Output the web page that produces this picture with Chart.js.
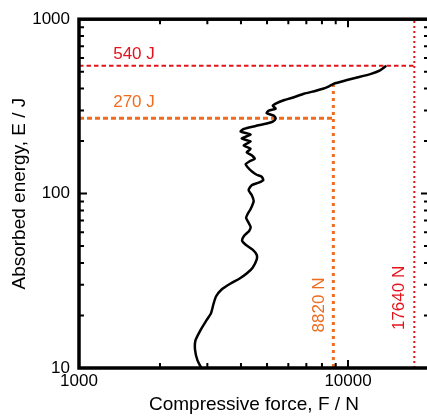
<!DOCTYPE html>
<html>
<head>
<meta charset="utf-8">
<script src="https://cdn.jsdelivr.net/npm/chart.js@4.4.1/dist/chart.umd.min.js"></script>
<style>
  html, body { margin: 0; padding: 0; background: #fff; overflow: hidden; }
  #wrap { width: 432px; height: 416px; }
</style>
</head>
<body>
<div id="wrap"><canvas id="energyChart" width="432" height="416"></canvas></div>
<script>
// compression curve: force vs absorbed energy
const forceN = [2850, 2755, 2700, 2710, 2830, 2980, 3095, 3160, 3230, 3390,
  3660, 3955, 4200, 4420, 4575, 4575, 4420, 4165, 4040, 4110,
  4290, 4345, 4255, 4180, 4235, 4345, 4460, 4385, 4270, 4385,
  4655, 4840, 4775, 4575, 4385, 4235, 4165, 4310, 4500, 4385,
  4200, 4345, 4095, 4345, 4025, 4345, 3990, 4095, 4535, 4985,
  5250, 5385, 5295, 4985, 5075, 5385, 5250, 5435, 5770, 6290,
  6855, 7600, 8065, 8495, 8945, 9830, 10900, 12180, 13160, 13860];
const energyJ = [10, 11.1, 12.7, 14.4, 16.5, 18.8, 20.6, 23.2, 25.7, 28.2,
  30.5, 32.6, 34.8, 37.6, 41.8, 44.6, 47.7, 50.9, 53.6, 57.3,
  61.1, 64.4, 68.8, 72.5, 76.4, 81.6, 90.6, 98.1, 104.7, 111.8,
  115.5, 119.4, 125.0, 128.3, 134.3, 141.6, 147.3, 153.2, 158.3, 165.7,
  172.4, 180.5, 189.0, 199.1, 207.1, 218.3, 227.1, 234.7, 244.1, 252.2,
  258.9, 269.2, 280.0, 289.4, 299.1, 307.0, 319.3, 330.0, 343.2, 357.0,
  373.8, 388.8, 399.1, 412.5, 429.0, 446.2, 464.2, 486.0, 508.8, 540];

// reference levels (red = full, orange = half)
const energyLevels = [540, 270];
const forceLevels = [17640, 8820];
const energyLabels = ['540 J', '270 J'];
const forceLabels = ['17640 N', '8820 N'];
const levelColors = ['#e3131b', '#ef6c1f'];
const halfForceTop = 425; // where 8820 N meets the curve

const xTicks = [1000, 10000];
const yTicks = [10, 100, 1000];

const FONT = "'Liberation Sans', Arial, sans-serif";

// frame + inward tick marks, drawn like a plotting program
const framePlugin = {
  id: 'frame',
  afterDatasetsDraw(chart) {
    const {ctx, chartArea: a, scales: {x, y}} = chart;
    ctx.save();
    ctx.strokeStyle = '#000';
    ctx.lineWidth = 2;
    ctx.beginPath();
    for (let d = 1000; d < 20000; d *= 10) {
      for (let m = 1; m < 10; m++) {
        const v = d * m;
        if (v <= 1000 || v >= 20000) continue;
        const px = x.getPixelForValue(v);
        const len = m === 1 ? 8 : 5;
        ctx.moveTo(px, a.top); ctx.lineTo(px, a.top + len);
        ctx.moveTo(px, a.bottom); ctx.lineTo(px, a.bottom - len);
      }
    }
    for (let d = 10; d < 1000; d *= 10) {
      for (let m = 1; m < 10; m++) {
        const v = d * m;
        if (v <= 10) continue;
        const py = y.getPixelForValue(v);
        const len = m === 1 ? 8 : 5;
        ctx.moveTo(a.left, py); ctx.lineTo(a.left + len, py);
        ctx.moveTo(a.right, py); ctx.lineTo(a.right - len, py);
      }
    }
    ctx.stroke();
    ctx.lineWidth = 3.5;
    ctx.strokeRect(a.left, a.top, a.right - a.left, a.bottom - a.top);
    ctx.restore();
  }
};

// text next to the reference lines
const levelTextPlugin = {
  id: 'levelText',
  afterDatasetsDraw(chart) {
    const {ctx, scales: {x, y}} = chart;
    ctx.save();
    ctx.font = '17px ' + FONT;
    ctx.textBaseline = 'middle';
    const eOffsets = [12, 16];
    energyLevels.forEach((e, i) => {
      ctx.fillStyle = levelColors[i];
      ctx.textAlign = 'left';
      ctx.fillText(energyLabels[i], x.getPixelForValue(1340), y.getPixelForValue(e) - eOffsets[i]);
    });
    const fOffsets = [15.5, 14];
    const fStart = [16.5, 16];
    forceLevels.forEach((f, i) => {
      ctx.save();
      ctx.fillStyle = levelColors[i];
      ctx.translate(x.getPixelForValue(f) - fOffsets[i], y.getPixelForValue(fStart[i]));
      ctx.rotate(-Math.PI / 2);
      ctx.textAlign = 'left';
      ctx.fillText(forceLabels[i], 0, 0);
      ctx.restore();
    });
    ctx.restore();
  }
};

class EnergyChart {
  constructor() {
    this.canvas = document.getElementById('energyChart');
    this.addChart();
  }

  points(xs, ys) {
    return xs.map((v, i) => ({x: v, y: ys[i]}));
  }

  addChart() {
    const ctx = this.canvas.getContext('2d');
    const red = levelColors[0];
    const orange = levelColors[1];

    new Chart(ctx, {
      type: 'scatter',
      data: {
        datasets: [{
          data: this.points(forceN, energyJ),
          showLine: true,
          borderColor: '#000',
          borderWidth: 2.5,
          pointRadius: 0,
          tension: 0.2
        }, {
          data: [{x: 1000, y: energyLevels[0]}, {x: forceLevels[0], y: energyLevels[0]}],
          showLine: true,
          borderColor: red,
          borderWidth: 2,
          borderDash: [4.5, 3],
          pointRadius: 0
        }, {
          data: [{x: forceLevels[0], y: 10}, {x: forceLevels[0], y: 1000}],
          showLine: true,
          borderColor: red,
          borderWidth: 2,
          borderDash: [2, 3],
          pointRadius: 0
        }, {
          data: [{x: 1000, y: energyLevels[1]}, {x: forceLevels[1], y: energyLevels[1]}],
          showLine: true,
          borderColor: orange,
          borderWidth: 3,
          borderDash: [5, 3],
          pointRadius: 0
        }, {
          data: [{x: forceLevels[1], y: halfForceTop}, {x: forceLevels[1], y: 10}],
          showLine: true,
          borderColor: orange,
          borderWidth: 3,
          borderDash: [3, 4],
          pointRadius: 0
        }]
      },
      options: {
        responsive: false,
        animation: false,
        devicePixelRatio: 1,
        layout: {padding: {left: 0, top: 17, right: 3, bottom: 0}},
        plugins: {
          legend: {display: false},
          tooltip: {enabled: false}
        },
        scales: {
          x: {
            type: 'logarithmic',
            min: 1000,
            max: 20000,
            grid: {display: false, drawTicks: false},
            border: {display: false},
            ticks: {
              autoSkip: false,
              maxRotation: 0,
              padding: 3,
              color: '#000',
              font: {family: FONT, size: 17},
              callback: (v) => xTicks.includes(v) ? String(v) : ''
            },
            title: {
              display: true,
              text: 'Compressive force, F / N',
              color: '#000',
              font: {family: FONT, size: 19},
              padding: {top: 0, bottom: 0}
            },
            afterFit: (scale) => { scale.height = 48; }
          },
          y: {
            type: 'logarithmic',
            min: 10,
            max: 1000,
            grid: {display: false, drawTicks: false},
            border: {display: false},
            ticks: {
              autoSkip: false,
              padding: 9,
              color: '#000',
              font: {family: FONT, size: 17},
              callback: (v) => yTicks.includes(v) ? String(v) : ''
            },
            title: {
              display: true,
              text: 'Absorbed energy, E / J',
              color: '#000',
              font: {family: FONT, size: 19},
              padding: {top: 8, bottom: 0}
            },
            afterFit: (scale) => { scale.width = 79; }
          }
        }
      },
      plugins: [framePlugin, levelTextPlugin]
    });
  }
}

document.addEventListener('DOMContentLoaded', function () {
  const energyChart = new EnergyChart();
});
</script>
</body>
</html>
